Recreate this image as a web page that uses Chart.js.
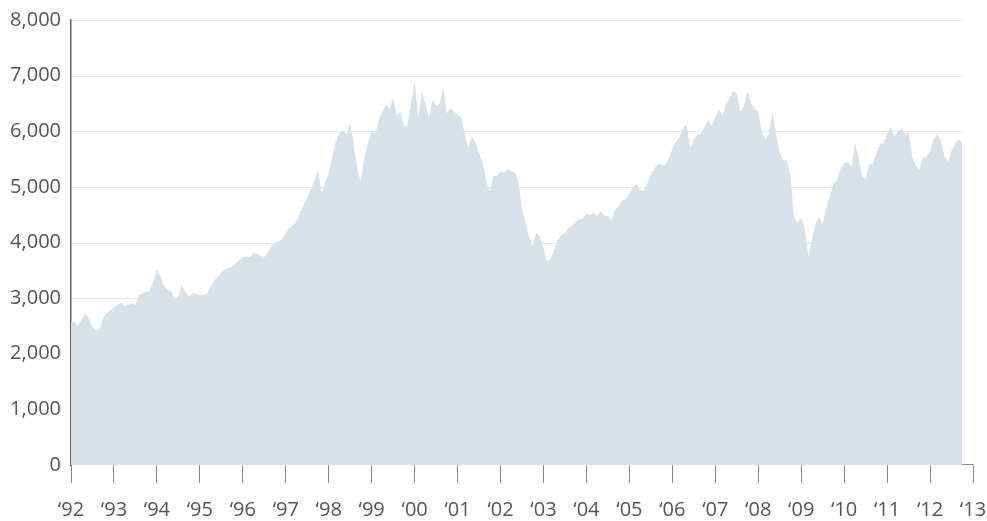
<!DOCTYPE html>
<html>
<head>
<meta charset="utf-8">
<title>Index level 1992-2012</title>
<script src="https://cdn.jsdelivr.net/npm/chart.js@4.4.0/dist/chart.umd.min.js"></script>
<style>
    body { margin: 0; background: #fff; }
    .chart-box { position: relative; width: 987px; height: 521px; }
</style>
</head>
<body>
<div class="chart-box"><canvas id="indexChart"></canvas></div>
<script>
// Monthly index level, one row per year, Jan 1992 -> Oct 2012
const firstYear = 1992;
const monthlyValues = [
    2560, 2570, 2490, 2620, 2720, 2640, 2480, 2410, 2450, 2650, 2720, 2780, // 1992
    2830, 2880, 2920, 2860, 2870, 2910, 2870, 3050, 3090, 3110, 3140, 3300, // 1993
    3510, 3400, 3220, 3150, 3120, 2970, 3030, 3250, 3100, 3020, 3090, 3080, // 1994
    3050, 3060, 3080, 3200, 3320, 3380, 3470, 3510, 3540, 3570, 3620, 3680, // 1995
    3740, 3750, 3730, 3810, 3800, 3760, 3740, 3820, 3940, 4000, 4020, 4060, // 1996
    4170, 4260, 4300, 4380, 4550, 4680, 4800, 4970, 5100, 5320, 4880, 5080, // 1997
    5250, 5550, 5820, 5980, 6020, 5950, 6150, 5800, 5300, 5100, 5550, 5800, // 1998
    6020, 5960, 6200, 6360, 6480, 6400, 6600, 6280, 6350, 6100, 6100, 6500, // 1999
    6900, 6250, 6700, 6500, 6250, 6560, 6450, 6500, 6780, 6320, 6420, 6350, // 2000
    6300, 6250, 5950, 5700, 5920, 5800, 5600, 5450, 5100, 4920, 5200, 5200, // 2001
    5270, 5250, 5320, 5280, 5260, 5100, 4600, 4350, 4100, 3950, 4180, 4100, // 2002
    3900, 3660, 3700, 3880, 4050, 4130, 4170, 4260, 4300, 4360, 4410, 4430, // 2003
    4520, 4490, 4540, 4480, 4560, 4480, 4480, 4400, 4580, 4650, 4760, 4780, // 2004
    4880, 5000, 5050, 4930, 4940, 5060, 5220, 5330, 5420, 5400, 5380, 5510, // 2005
    5680, 5810, 5900, 6060, 6120, 5690, 5850, 5930, 5960, 6080, 6200, 6100, // 2006
    6250, 6400, 6280, 6480, 6600, 6730, 6680, 6350, 6450, 6730, 6500, 6400, // 2007
    6350, 5980, 5850, 5950, 6350, 5950, 5600, 5480, 5480, 5200, 4450, 4350, // 2008
    4450, 4250, 3750, 4050, 4350, 4450, 4330, 4620, 4850, 5050, 5120, 5330, // 2009
    5430, 5450, 5350, 5800, 5550, 5200, 5130, 5400, 5420, 5600, 5780, 5780, // 2010
    5950, 6080, 5900, 5980, 6060, 5950, 5980, 5550, 5380, 5300, 5540, 5530, // 2011
    5650, 5850, 5950, 5850, 5550, 5450, 5650, 5780, 5850, 5800              // 2012
];
const tickYears = [1992, 1993, 1994, 1995, 1996, 1997, 1998, 1999, 2000, 2001, 2002,
    2003, 2004, 2005, 2006, 2007, 2008, 2009, 2010, 2011, 2012, 2013];
const tickLabels = ['‘92', '‘93', '‘94', '‘95', '‘96', '‘97', '‘98', '‘99', '‘00', '‘01', '‘02',
    '‘03', '‘04', '‘05', '‘06', '‘07', '‘08', '‘09', '‘10', '‘11', '‘12', '‘13'];
const yMax = 8000;
const yStep = 1000;

const points = monthlyValues.map((v, i) => ({ x: firstYear + i / 12, y: v }));
const labelFont = { family: '"Open Sans", "DejaVu Sans", sans-serif', size: 20 };

// horizontal gridlines stop where the data stops, plus the baseline past the last point
const gridAndBase = {
    id: 'gridAndBase',
    beforeDatasetsDraw(chart) {
        const { ctx, chartArea, scales } = chart;
        const last = points[points.length - 1];
        const xEnd = scales.x.getPixelForValue(last.x);
        ctx.save();
        ctx.lineWidth = 1;
        ctx.strokeStyle = '#e6e6e6';
        scales.y.ticks.forEach(t => {
            if (t.value === 0) return;
            const y = Math.round(scales.y.getPixelForValue(t.value)) + 0.5;
            ctx.beginPath();
            ctx.moveTo(chartArea.left + 1, y);
            ctx.lineTo(xEnd, y);
            ctx.stroke();
        });
        ctx.strokeStyle = '#888';
        ctx.beginPath();
        ctx.moveTo(chartArea.left, chartArea.bottom - 0.5);
        ctx.lineTo(chartArea.right + 0.5, chartArea.bottom - 0.5);
        ctx.stroke();
        ctx.restore();
    }
};

const ctx = document.getElementById('indexChart').getContext('2d');
const indexChart = new Chart(ctx, {
    type: 'line',
    data: {
        datasets: [{
            data: points,
            fill: 'origin',
            backgroundColor: '#d6e1e9',
            borderColor: 'rgba(0,0,0,0)',
            borderWidth: 0,
            pointRadius: 0,
            tension: 0
        }]
    },
    options: {
        responsive: true,
        maintainAspectRatio: false,
        animation: false,
        layout: { padding: { top: 20, right: 14, bottom: 0, left: 0 } },
        plugins: {
            legend: { display: false },
            tooltip: { enabled: false }
        },
        scales: {
            x: {
                type: 'linear',
                min: tickYears[0],
                max: tickYears[tickYears.length - 1],
                ticks: {
                    stepSize: 1,
                    autoSkip: false,
                    maxRotation: 0,
                    padding: 15,
                    color: '#555',
                    font: labelFont,
                    callback: v => {
                        const i = tickYears.indexOf(v);
                        return i < 0 ? '' : tickLabels[i];
                    }
                },
                grid: {
                    drawOnChartArea: false,
                    drawTicks: true,
                    tickLength: 18,
                    color: '#888',
                    lineWidth: 1
                },
                border: { display: false },
                afterFit: s => { s.height = 56; s.paddingLeft = 0; s.paddingRight = 0; }
            },
            y: {
                min: 0,
                max: yMax,
                ticks: {
                    stepSize: yStep,
                    padding: 10,
                    color: '#555',
                    font: labelFont,
                    callback: v => v.toLocaleString('en-US')
                },
                grid: { display: false, drawTicks: false },
                border: { display: true, color: '#666', width: 1.5 },
                afterFit: s => { s.width = 71; s.paddingTop = 0; s.paddingBottom = 0; }
            }
        }
    },
    plugins: [gridAndBase]
});
</script>
</body>
</html>
